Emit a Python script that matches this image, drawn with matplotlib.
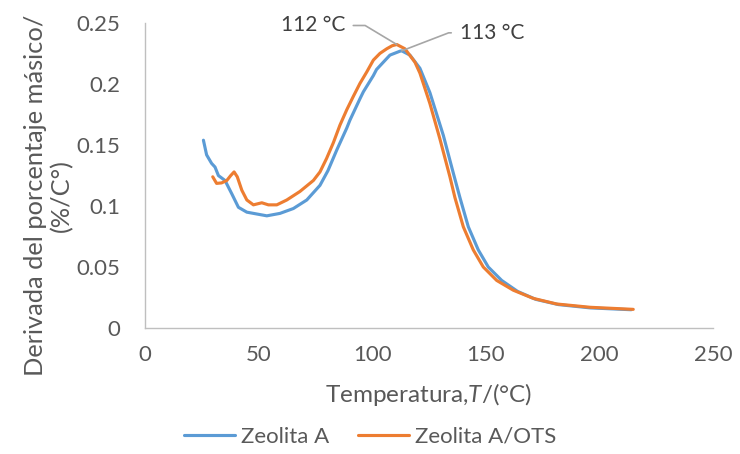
import numpy as np
import matplotlib
matplotlib.use("Agg")
import matplotlib.pyplot as plt

# data
t_zeolita = [25.7, 27.1, 29.3, 30.8, 32.3, 35.2, 38.2, 41.1, 44.8, 49.2, 53.6, 59.4, 65.3,
             71.2, 77.0, 80.5, 84.4, 88.8, 90.2, 94.6, 96.1, 100.5, 101.9, 106.4, 107.8, 112.2,
             113.0, 116.6, 121.0, 125.4, 131.3, 135.7, 138.6, 142.3, 146.7, 151.1, 157.0,
             164.0, 172.0, 182.0, 196.0, 214.0]
d_zeolita = [0.154, 0.142, 0.135, 0.132, 0.125, 0.121, 0.110, 0.099, 0.095, 0.0935, 0.092,
             0.094, 0.098, 0.105, 0.117, 0.129, 0.146, 0.164, 0.1705, 0.188, 0.1937, 0.207,
             0.212, 0.221, 0.2238, 0.227, 0.2273, 0.2238, 0.213, 0.193, 0.158, 0.127, 0.107,
             0.083, 0.064, 0.050, 0.039, 0.030, 0.0235, 0.0192, 0.0165, 0.015]

t_ots = [29.8, 31.5, 33.7, 36.0, 37.7, 39.2, 40.6, 42.6, 44.8, 47.7, 51.4, 54.3, 58.0, 62.4,
         68.2, 74.1, 77.0, 79.9, 82.9, 85.8, 88.8, 91.7, 94.6, 97.6, 100.5, 103.4, 106.4,
         108.8, 110.8, 114.4, 118.8, 121.0, 125.4, 129.8, 134.2, 136.4, 140.1, 144.5, 148.9,
         154.8, 162.1, 170.9, 181.2, 195.9, 214.9]
d_ots = [0.124, 0.1186, 0.119, 0.121, 0.125, 0.128, 0.124, 0.113, 0.105, 0.101, 0.1027, 0.101,
         0.101, 0.105, 0.112, 0.121, 0.128, 0.139, 0.152, 0.1664, 0.179, 0.190, 0.2006, 0.210,
         0.2197, 0.2252, 0.229, 0.2315, 0.2325, 0.229, 0.218, 0.209, 0.184, 0.155, 0.124,
         0.107, 0.083, 0.064, 0.050, 0.039, 0.031, 0.0243, 0.0197, 0.017, 0.0153]

series_names = ["Zeolita A", "Zeolita A/OTS"]
peak_labels = ["113 °C", "112 °C"]
x_ticks = [0, 50, 100, 150, 200, 250]
y_ticks = [0, 0.05, 0.1, 0.15, 0.2, 0.25]
y_tick_labels = ["0", "0.05", "0.1", "0.15", "0.2", "0.25"]

BLUE = "#5B9BD5"
ORANGE = "#ED7D31"
TEXT = "#595959"
AXIS = "#BFBFBF"

plt.rcParams["font.family"] = ["Lato", "DejaVu Sans"]
plt.rcParams["mathtext.fontset"] = "custom"
plt.rcParams["mathtext.it"] = "Lato:italic"
plt.rcParams["mathtext.rm"] = "Lato"

fig = plt.figure(figsize=(7.4, 4.54), dpi=100)
ax = fig.add_axes([0.196, 0.2775, 0.7675, 0.6715])

ax.plot(t_zeolita, d_zeolita, color=BLUE, lw=2.25, label=series_names[0],
        solid_joinstyle="round", solid_capstyle="round")
ax.plot(t_ots, d_ots, color=ORANGE, lw=2.25, label=series_names[1],
        solid_joinstyle="round", solid_capstyle="round")

ax.set_xlim(0, 250)
ax.set_ylim(0, 0.25)
ax.set_xticks(x_ticks)
ax.set_yticks(y_ticks)
ax.set_yticklabels(y_tick_labels)
ax.tick_params(axis="both", length=0, labelsize=16, labelcolor=TEXT)
ax.tick_params(axis="y", pad=18)
ax.tick_params(axis="x", pad=12)

for s in ["top", "right"]:
    ax.spines[s].set_visible(False)
for s in ["left", "bottom"]:
    ax.spines[s].set_color(AXIS)
    ax.spines[s].set_linewidth(1.0)

ax.set_xlabel("Temperatura,$\\it{T}$/(°C)", fontsize=17.5, color=TEXT, labelpad=12)
ax.set_ylabel("Derivada del porcentaje másico/\n(%/C°)", fontsize=18.3, color=TEXT,
              linespacing=1.15, ha="center")
ax.yaxis.set_label_coords(-0.127, 0.435)

# peak labels with leader lines
i_b = int(np.argmax(d_zeolita))
i_o = int(np.argmax(d_ots))
ax.annotate(peak_labels[1], xy=(t_ots[i_o], d_ots[i_o]), xytext=(-84, 19),
            textcoords="offset pixels", ha="center", va="center", fontsize=15,
            color="#404040",
            arrowprops=dict(arrowstyle="-", color="#A6A6A6", lw=1.2, shrinkA=4, shrinkB=0,
                            connectionstyle="angle,angleA=0,angleB=-31,rad=0"))
ax.annotate(peak_labels[0], xy=(t_zeolita[i_b], d_zeolita[i_b]), xytext=(90, 18),
            textcoords="offset pixels", ha="center", va="center", fontsize=15,
            color="#404040",
            arrowprops=dict(arrowstyle="-", color="#A6A6A6", lw=1.2, shrinkA=4, shrinkB=0,
                            connectionstyle="angle,angleA=0,angleB=21,rad=0"))

fig.legend(loc="center", bbox_to_anchor=(0.5, 0.038), ncol=2, frameon=False,
           fontsize=16, labelcolor=TEXT, handlelength=2.3, columnspacing=1.3,
           handletextpad=0.25)

fig.savefig("out.png", dpi=100)
